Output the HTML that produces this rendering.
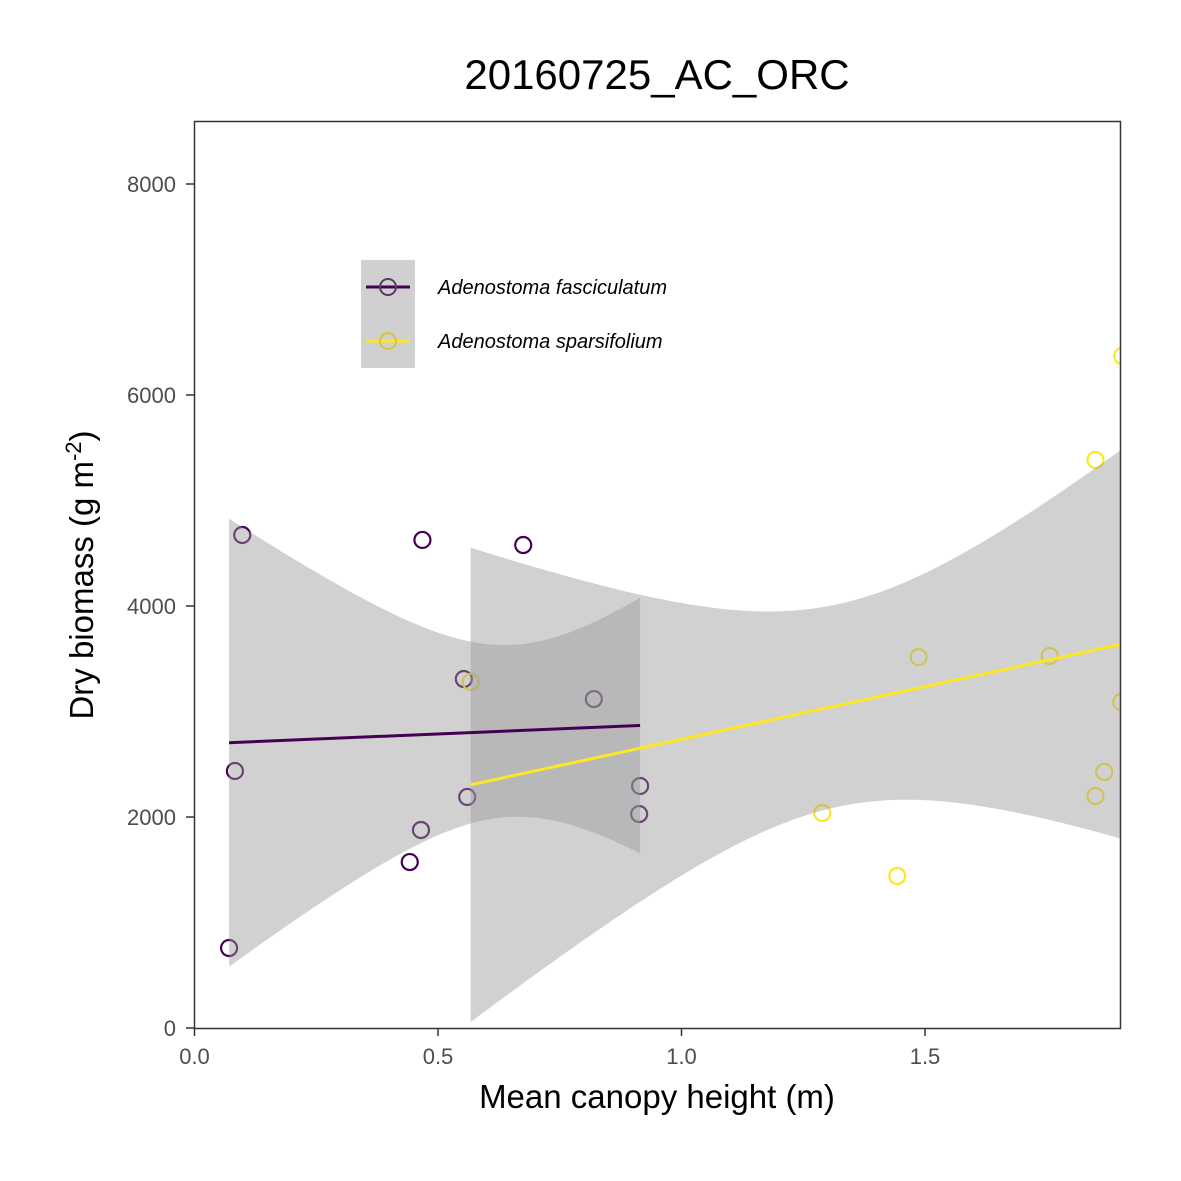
<!DOCTYPE html>
<html><head><meta charset="utf-8"><style>
body{margin:0;background:#fff}
svg{display:block;font-family:"Liberation Sans",Arial,sans-serif}
</style></head><body>
<svg id="chart" width="1181" height="1181" viewBox="0 0 1181 1181">
<rect width="1181" height="1181" fill="#fff"/>
<text x="657" y="89" font-size="42" text-anchor="middle" fill="#000">20160725_AC_ORC</text>
<defs><clipPath id="pc"><rect x="194" y="121" width="927" height="907"/></clipPath></defs>
<g id="marks" clip-path="url(#pc)"></g>
<rect x="194.5" y="121.5" width="926" height="907" fill="none" stroke="#333" stroke-width="1.5"/>
<g id="axes"></g>
<text x="657" y="1108" font-size="33" text-anchor="middle" fill="#000">Mean canopy height (m)</text>
<text transform="translate(93,575) rotate(-90)" font-size="33" text-anchor="middle" fill="#000">Dry biomass (g m<tspan baseline-shift="super" font-size="22">-2</tspan>)</text>
<g>
<rect x="361" y="260" width="54" height="108" fill="#d0d0d0"/>
<line x1="366" y1="287" x2="410" y2="287" stroke="#440154" stroke-width="3"/>
<circle cx="388" cy="287" r="8" fill="none" stroke="#5b3a6a" stroke-width="2"/>
<line x1="366" y1="341" x2="410" y2="341" stroke="#FDE725" stroke-width="3"/>
<circle cx="388" cy="341" r="8" fill="none" stroke="#d6c640" stroke-width="2"/>
<text x="438" y="294" font-size="20" font-style="italic">Adenostoma fasciculatum</text>
<text x="438" y="348" font-size="20" font-style="italic">Adenostoma sparsifolium</text>
</g>
</svg>
<script>
const xTicks=[0,0.5,1.0,1.5];
const xTickLabels=["0.0","0.5","1.0","1.5"];
const yTicks=[0,2000,4000,6000,8000];
const yTickLabels=["0","2000","4000","6000","8000"];
const faX=[0.071,0.098,0.083,0.468,0.675,0.553,0.56,0.465,0.442,0.82,0.915,0.913];
const faY=[758,4673,2436,4626,4578,3308,2190,1877,1573,3118,2294,2028];
const spX=[0.567,1.487,1.756,1.905,1.85,1.903,1.868,1.85,1.289,1.443];
const spY=[3280,3516,3526,6370,5384,3090,2427,2199,2038,1441];
const NS="http://www.w3.org/2000/svg";
function sx(v){return 194.5+v*487;}
function sy(v){return 1028-v*0.1055;}
const marks=document.getElementById('marks'),axes=document.getElementById('axes');
function mk(p,tag,a){const e=document.createElementNS(NS,tag);for(const k in a)e.setAttribute(k,a[k]);p.appendChild(e);return e;}
function fit(X,Y,c,hmin,hk){const n=X.length;const mx=X.reduce((a,b)=>a+b)/n,my=Y.reduce((a,b)=>a+b)/n;
let sxx=0,sxy=0;for(let i=0;i<n;i++){sxx+=(X[i]-mx)**2;sxy+=(X[i]-mx)*(Y[i]-my);}
const b=sxy/sxx,a=my-b*mx;let sse=0;for(let i=0;i<n;i++)sse+=(Y[i]-a-b*X[i])**2;const s=Math.sqrt(sse/(n-2));
const x0=Math.min(...X),x1=Math.max(...X);const up=[],lo=[];
for(let k=0;k<=80;k++){const x=x0+(x1-x0)*k/80;const f=a+b*x;const h=Math.sqrt(hmin*hmin+(hk*(x-c))**2);up.push([x,f+h]);lo.push([x,f-h]);}
return {a,b,x0,x1,up,lo};}
const groups=[{X:faX,Y:faY,c:"#440154",pc:"#440154",cx:0.65,hmin:815,hk:3385,n:"fasciculatum"},{X:spX,Y:spY,c:"#FDE725",pc:"#FDE725",cx:1.32,hmin:960,hk:2700,n:"sparsifolium"}];
groups.forEach(g=>{g.X.forEach((x,i)=>{const c=mk(marks,'circle',{cx:sx(x),cy:sy(g.Y[i]),r:8,fill:'none',stroke:g.pc,'stroke-width':2.2});

});});
groups.forEach(g=>{g.f=fit(g.X,g.Y,g.cx,g.hmin,g.hk);const pts=g.f.up.concat(g.f.lo.slice().reverse()).map(p=>sx(p[0])+','+sy(p[1])).join(' ');
const r=mk(marks,'polygon',{points:pts,fill:'#999999','fill-opacity':0.45});

});
groups.forEach(g=>{const f=g.f;const l=mk(marks,'line',{x1:sx(f.x0),y1:sy(f.a+f.b*f.x0),x2:sx(f.x1),y2:sy(f.a+f.b*f.x1),stroke:g.c,'stroke-width':3});

});
xTicks.forEach((v,i)=>{mk(axes,'line',{x1:sx(v),x2:sx(v),y1:1028,y2:1036,stroke:'#333','stroke-width':1.5});
const t=mk(axes,'text',{x:sx(v),y:1064,'font-size':22,'text-anchor':'middle',fill:'#4d4d4d'});t.textContent=xTickLabels[i];

});
yTicks.forEach((v,i)=>{mk(axes,'line',{x1:186,x2:194,y1:sy(v),y2:sy(v),stroke:'#333','stroke-width':1.5});
const t=mk(axes,'text',{x:176,y:sy(v)+8,'font-size':22,'text-anchor':'end',fill:'#4d4d4d'});t.textContent=yTickLabels[i];

});
</script>
</body></html>
